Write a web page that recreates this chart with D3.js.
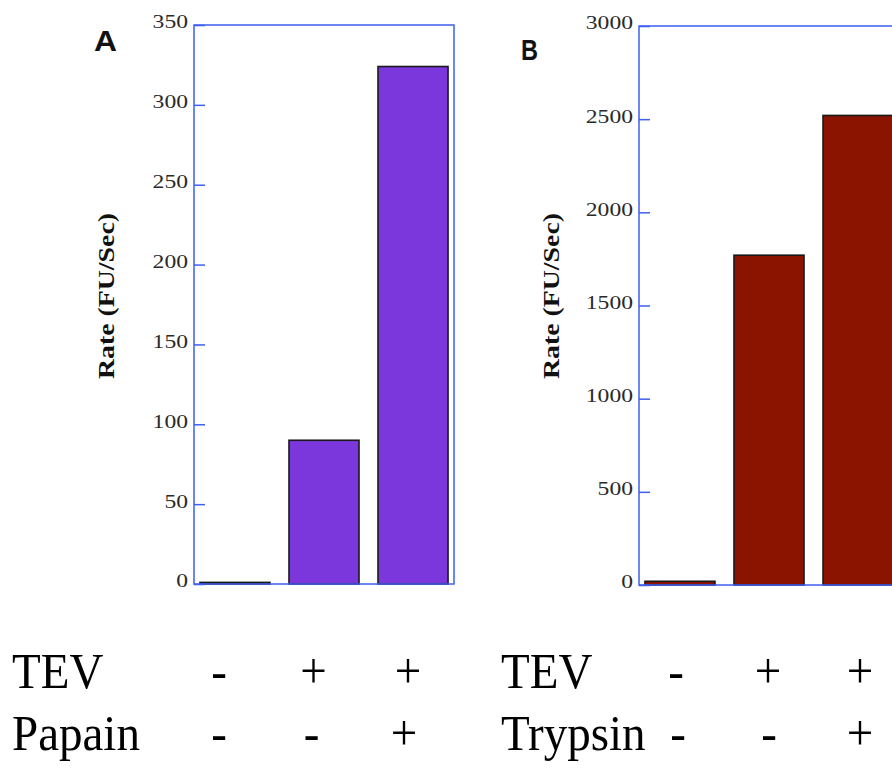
<!DOCTYPE html>
<html>
<head>
<meta charset="utf-8">
<script src="https://cdn.jsdelivr.net/npm/d3@7"></script>
<style>
  html, body { margin: 0; padding: 0; background: #fff; }
  svg { display: block; }
</style>
</head>
<body>
<svg id="chart" width="892" height="768"></svg>
<script>
// conditions (bar order)
const conditions = ['none', 'TEV', 'TEV+protease']

// panel A: Papain
const ratesA = [1, 90, 324]
const ticksA = [0, 50, 100, 150, 200, 250, 300, 350]
const rowNamesA = ['TEV', 'Papain']
const signsA = [['-', '+', '+'], ['-', '-', '+']]

// panel B: Trypsin
const ratesB = [20, 1770, 2520]
const ticksB = [0, 500, 1000, 1500, 2000, 2500, 3000]
const rowNamesB = ['TEV', 'Trypsin']
const signsB = [['-', '+', '+'], ['-', '-', '+']]

const axisLabel = 'Rate (FU/Sec)'
const frameColor = '#3f5ff0'
const serif = '"Liberation Serif", "Times New Roman", Times, serif'

const svg = d3.select('#chart')

function drawPanel(opts) {
  const x = d3.scaleBand()
    .domain(conditions)
    .range([opts.left, opts.right])
    .paddingInner(0.2135)
    .paddingOuter(0.067)

  const y = d3.scaleLinear()
    .domain(opts.domain)
    .range([opts.bottom, opts.top])

  const g = svg.append('g')

  // bars
  g.selectAll('rect.bar')
    .data(opts.rates)
    .enter().append('rect')
    .attr('class', 'bar')
    .attr('x', (d, i) => x(conditions[i]))
    .attr('width', x.bandwidth())
    .attr('y', d => y(d))
    .attr('height', d => y(0) - y(d))
    .attr('fill', opts.fill)
    .attr('stroke', '#1a1a1a')
    .attr('stroke-width', 1.6)

  // inward ticks + labels
  const axis = d3.axisLeft(y)
    .tickValues(opts.ticks)
    .tickSizeInner(-11)
    .tickSizeOuter(0)
    .tickPadding(6)
    .tickFormat(d3.format('d'))

  const ag = g.append('g')
    .attr('transform', `translate(${opts.left},0)`)
    .call(axis)
  ag.select('.domain').remove()
  ag.selectAll('.tick line')
    .attr('stroke', frameColor)
    .attr('stroke-width', 1.5)
  ag.selectAll('.tick text')
    .attr('fill', '#2a2a2a')
    .attr('dy', '0.15em')
    .style('font-family', serif)
    .style('font-size', '19px')
    .attr('textLength', d => String(d).length * 11.8)
    .attr('lengthAdjust', 'spacingAndGlyphs')

  // frame
  g.append('rect')
    .attr('x', opts.left)
    .attr('y', opts.top)
    .attr('width', opts.right - opts.left)
    .attr('height', opts.bottom - opts.top)
    .attr('fill', 'none')
    .attr('stroke', frameColor)
    .attr('stroke-width', 1.5)

  // y axis title
  g.append('text')
    .attr('transform', `translate(${opts.left - 80},296) rotate(-90)`)
    .attr('text-anchor', 'middle')
    .attr('textLength', 166)
    .attr('lengthAdjust', 'spacingAndGlyphs')
    .style('font-family', serif)
    .style('font-weight', 'bold')
    .style('font-size', '24px')
    .attr('fill', '#111')
    .text(axisLabel)

  // panel letter
  g.append('text')
    .attr('x', opts.letterX)
    .attr('y', opts.letterY)
    .style('font-family', '"Liberation Sans", Arial, sans-serif')
    .style('font-weight', 'bold')
    .style('font-size', '30px')
    .attr('fill', '#111')
    .text(opts.letter)
    .attr('textLength', opts.letterW)
    .attr('lengthAdjust', 'spacingAndGlyphs')

  // condition table below
  const rowY = [688, 750]
  opts.rowNames.forEach((name, r) => {
    g.append('text')
      .attr('transform', `translate(${opts.tableX},${rowY[r]}) scale(1,1.07)`)
      .style('font-family', serif)
      .style('font-size', '47px')
      .attr('fill', '#000')
      .text(name)

    const sx = d3.scalePoint()
      .domain(conditions)
      .range(opts.signRange[r])

    g.selectAll(null)
      .data(opts.signs[r])
      .enter().append('text')
      .attr('transform', (d, i) => `translate(${sx(conditions[i])},${rowY[r]}) scale(1,1.07)`)
      .attr('text-anchor', 'middle')
      .style('font-family', serif)
      .style('font-size', '47px')
      .attr('fill', '#000')
      .text(d => d)
  })
}

drawPanel({
  left: 194, right: 454, top: 25, bottom: 584,
  domain: [0, 350], ticks: ticksA, rates: ratesA, fill: '#7b37dc',
  letter: 'A', letterX: 94, letterY: 51, letterW: 23,
  rowNames: rowNamesA, signs: signsA, tableX: 12,
  signRange: [[219, 408], [219, 404]]
})

drawPanel({
  left: 639, right: 899, top: 26, bottom: 585,
  domain: [0, 3000], ticks: ticksB, rates: ratesB, fill: '#8b1400',
  letter: 'B', letterX: 521, letterY: 60, letterW: 17,
  rowNames: rowNamesB, signs: signsB, tableX: 501,
  signRange: [[676, 860], [678, 860]]
})
</script>
</body>
</html>
